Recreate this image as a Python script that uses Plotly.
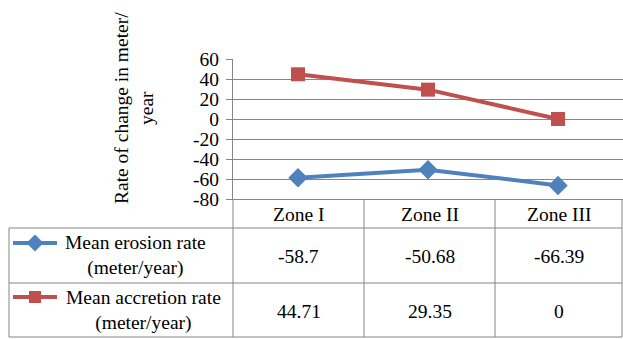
import plotly.graph_objects as go

# Chart data
zones = ["Zone I", "Zone II", "Zone III"]
erosion = [-58.7, -50.68, -66.39]
accretion = [44.71, 29.35, 0]
series_names = [("Mean erosion rate", "(meter/year)"),
                 ("Mean accretion rate", "(meter/year)")]
y_ticks = [60, 40, 20, 0, -20, -40, -60, -80]

W, H = 623, 339
BLUE = "#4F81BD"
RED = "#C0504D"
GRID = "#868686"
FONT = "'Times New Roman', 'Liberation Serif', serif"
FS = 19.5

# plot-area geometry in pixels
PX0, PX1 = 233, 623
PY0, PY1 = 59, 199   # top (60) and bottom (-80)
COLS = [233, 364, 495, 622]
ROWS = [199, 228, 283, 337]
TLEFT = 9


def fx(px):
    return px / W


def fy(py):
    return 1 - py / H


fig = go.Figure()
xs = list(range(len(zones)))

fig.add_trace(go.Scatter(
    x=xs, y=erosion, mode="lines+markers",
    line=dict(color=BLUE, width=4),
    marker=dict(symbol="diamond", size=15, color=BLUE),
    showlegend=False, cliponaxis=False))
fig.add_trace(go.Scatter(
    x=xs, y=accretion, mode="lines+markers",
    line=dict(color=RED, width=4),
    marker=dict(symbol="square", size=14, color=RED),
    showlegend=False, cliponaxis=False))

# legend keys inside the data table (overlay axes in pixel units)
key_rows = [(BLUE, "diamond", 13, 243), (RED, "square", 12, 297)]
for color, sym, size, ky in key_rows:
    fig.add_trace(go.Scatter(
        x=[13, 57], y=[ky, ky], mode="lines", xaxis="x2", yaxis="y2",
        line=dict(color=color, width=4), showlegend=False, hoverinfo="skip"))
    fig.add_trace(go.Scatter(
        x=[35], y=[ky], mode="markers", xaxis="x2", yaxis="y2",
        marker=dict(symbol=sym, size=size, color=color),
        showlegend=False, hoverinfo="skip"))

shapes = []
line_style = dict(color=GRID, width=1)
# horizontal table rules
for r in ROWS[1:]:
    shapes.append(dict(type="line", xref="paper", yref="paper",
                       x0=fx(TLEFT), x1=fx(622), y0=fy(r), y1=fy(r), line=line_style))
# vertical table rules
for c in COLS:
    shapes.append(dict(type="line", xref="paper", yref="paper",
                       x0=fx(c), x1=fx(c), y0=fy(ROWS[0]), y1=fy(ROWS[3]), line=line_style))
shapes.append(dict(type="line", xref="paper", yref="paper",
                   x0=fx(TLEFT), x1=fx(TLEFT), y0=fy(ROWS[1]), y1=fy(ROWS[3]), line=line_style))

annotations = []
txt_font = dict(family=FONT, size=FS, color="black")


def label(px, py, text, **kw):
    annotations.append(dict(x=fx(px), y=fy(py), xref="paper", yref="paper",
                            xanchor="center", yanchor="middle",
                            text=text, showarrow=False, font=txt_font, **kw))


# column headers
for i, z in enumerate(zones):
    label((COLS[i] + COLS[i + 1]) / 2, (ROWS[0] + ROWS[1]) / 2 + 1, z)
# values
for r, vals in enumerate([erosion, accretion]):
    cy = (ROWS[r + 1] + ROWS[r + 2]) / 2
    for i, v in enumerate(vals):
        label((COLS[i] + COLS[i + 1]) / 2, cy + 1, f"{v:g}")
# series names
name_cx = [135, 143]
for r, (l1, l2) in enumerate(series_names):
    cy = (ROWS[r + 1] + ROWS[r + 2]) / 2
    label(name_cx[r], cy, f"{l1}<br>{l2}", align="center")
# y-axis title
label(134, 108, "Rate of change in meter/<br>year", textangle=-90, align="center")

fig.update_layout(
    width=W, height=H,
    margin=dict(l=0, r=0, t=0, b=0, autoexpand=False),
    paper_bgcolor="white", plot_bgcolor="rgba(0,0,0,0)",
    font=txt_font,
    xaxis=dict(domain=[fx(PX0), fx(PX1)], range=[-0.5, 2.5], automargin=False,
               showticklabels=False, showgrid=False, zeroline=False,
               showline=True, linecolor=GRID, linewidth=1, ticks=""),
    yaxis=dict(domain=[fy(PY1), fy(PY0)], range=[-80, 60], automargin=False,
               tickvals=y_ticks, ticktext=[str(t) for t in y_ticks],
               showgrid=True, gridcolor=GRID, gridwidth=1, zeroline=False,
               showline=True, linecolor=GRID, linewidth=1,
               ticks="outside", ticklen=6, tickcolor=GRID,
               ticklabelstandoff=3, tickfont=txt_font),
    xaxis2=dict(domain=[0, 1], range=[0, W], visible=False, anchor="y2",
                automargin=False),
    yaxis2=dict(domain=[0, 1], range=[H, 0], visible=False, anchor="x2",
                automargin=False),
    shapes=shapes,
    annotations=annotations,
)

fig.write_html("out.html")
